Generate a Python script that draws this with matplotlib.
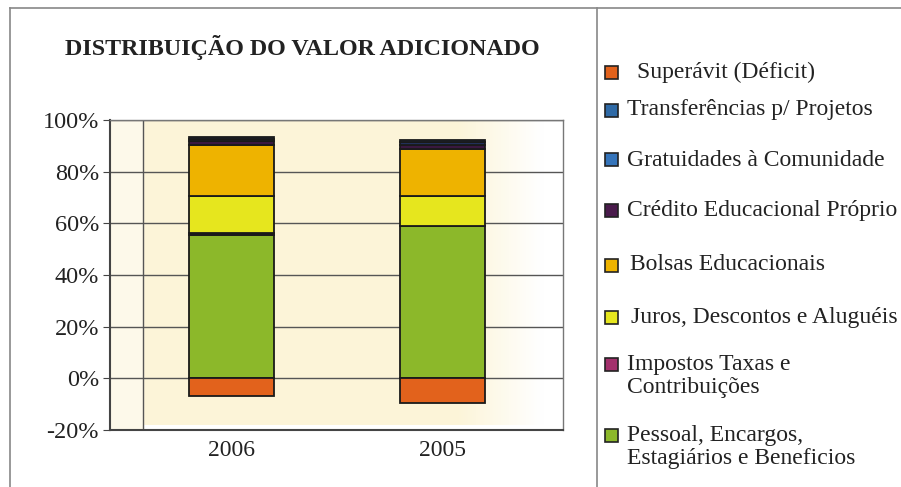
import numpy as np
import matplotlib
matplotlib.use('Agg')
import matplotlib.pyplot as plt
from matplotlib.patches import Rectangle
from matplotlib.lines import Line2D

# data (percent of added value)
years = ['2006', '2005']
pessoal = [55.3, 58.8]
impostos = [1.0, 0.3]
juros = [14.1, 11.3]
bolsas = [20.0, 18.5]
credito = [1.4, 1.4]
gratuidades = [1.0, 1.0]
transferencias = [0.8, 1.0]
superavit = [-7.0, -9.5]

labels = ['Superávit (Déficit)', 'Transferências p/ Projetos', 'Gratuidades à Comunidade',
          'Crédito Educacional Próprio', 'Bolsas Educacionais', 'Juros, Descontos e Aluguéis',
          'Impostos Taxas e\nContribuições', 'Pessoal, Encargos,\nEstagiários e Beneficios']
colors = ['#e2621c', '#2f6aa6', '#3574ba', '#4a1b4c', '#eeb300', '#e6e61e', '#a3306c', '#8cb82a']

plt.rcParams['font.family'] = ['Liberation Serif', 'DejaVu Serif']

fig = plt.figure(figsize=(9.01, 4.87), dpi=100)
W, H = 901, 487

ax = fig.add_axes([110 / W, 57 / H, 453 / W, 310 / H])

# cream background gradient
grad = np.linspace(0, 1, 200)
c0 = np.array([0.99, 0.96, 0.85])
c1 = np.array([1.0, 1.0, 1.0])
img = np.zeros((2, 200, 3))
for i in range(200):
    t = min(1.0, max(0.0, (grad[i] - 0.75) / 0.2))
    img[:, i, :] = c0 * (1 - t) + c1 * t
ax.imshow(img, extent=[-0.42, 1.571, -18, 100], aspect='auto', zorder=0)
ax.axvspan(-0.576, -0.42, color='#fdf9ea', zorder=0)

x = np.arange(len(years))
wid = 0.40
series = [pessoal, impostos, juros, bolsas, credito, gratuidades, transferencias]
scol = [colors[7], '#2a1020', colors[5], colors[4], '#3a1840', '#22305a', '#1f2f5e']
bottom = np.zeros(len(years))
for vals, c in zip(series, scol):
    ax.bar(x, vals, wid, bottom=bottom, color=c, edgecolor='#1a1a1a', linewidth=1.3, zorder=3)
    bottom += np.array(vals)
ax.bar(x, superavit, wid, color=colors[0], edgecolor='#1a1a1a', linewidth=1.3, zorder=3)

ax.set_xlim(-0.576, 1.571)
ax.set_ylim(-20, 100)
ax.set_yticks(np.arange(-20, 101, 20))
ax.set_yticklabels(['%d%%' % v for v in range(-20, 101, 20)], fontsize=17.5, color='#222')
ax.set_xticks(x)
ax.set_xticklabels(years, fontsize=17, color='#222')
ax.tick_params(axis='x', length=0, pad=7)
ax.tick_params(axis='y', length=5, direction='out', color='#444', pad=3)
for v in range(0, 101, 20):
    ax.axhline(v, color='#555', lw=1, zorder=1)
ax.axvline(-0.42, color='#555', lw=1, zorder=1)
for s in ['left', 'bottom']:
    ax.spines[s].set_color('#444')
    ax.spines[s].set_linewidth(1.5)
for s in ['top', 'right']:
    ax.spines[s].set_color('#777')
    ax.spines[s].set_linewidth(1)

fig.text(302 / W, 1 - 48 / H, 'DISTRIBUIÇÃO DO VALOR ADICIONADO', ha='center', va='center',
         fontsize=17.3, fontweight='bold', color='#222')

# outer frame and divider
for xs, ys in [([10, 10], [8, 487]), ([10, 901], [8, 8]), ([597, 597], [8, 487])]:
    fig.add_artist(Line2D([v / W for v in xs], [1 - v / H for v in ys], color='#888', lw=1.2))

# legend
text_x = [637, 627, 627, 627, 630, 631, 627, 627]
text_y = [72, 110, 160, 210, 265, 317, 376, 447]
for lab, c, tx, ty in zip(labels, colors, text_x, text_y):
    nl = lab.count('\n')
    sy = ty - nl * 11.5
    fig.add_artist(Rectangle((605 / W, 1 - (sy + 6.5) / H), 13 / W, 13 / H, facecolor=c,
                             edgecolor='#222', lw=1.2))
    fig.text(tx / W, 1 - ty / H, lab, ha='left', va='center', fontsize=17, color='#222',
             linespacing=1.1)

fig.savefig('out.png', dpi=100)
